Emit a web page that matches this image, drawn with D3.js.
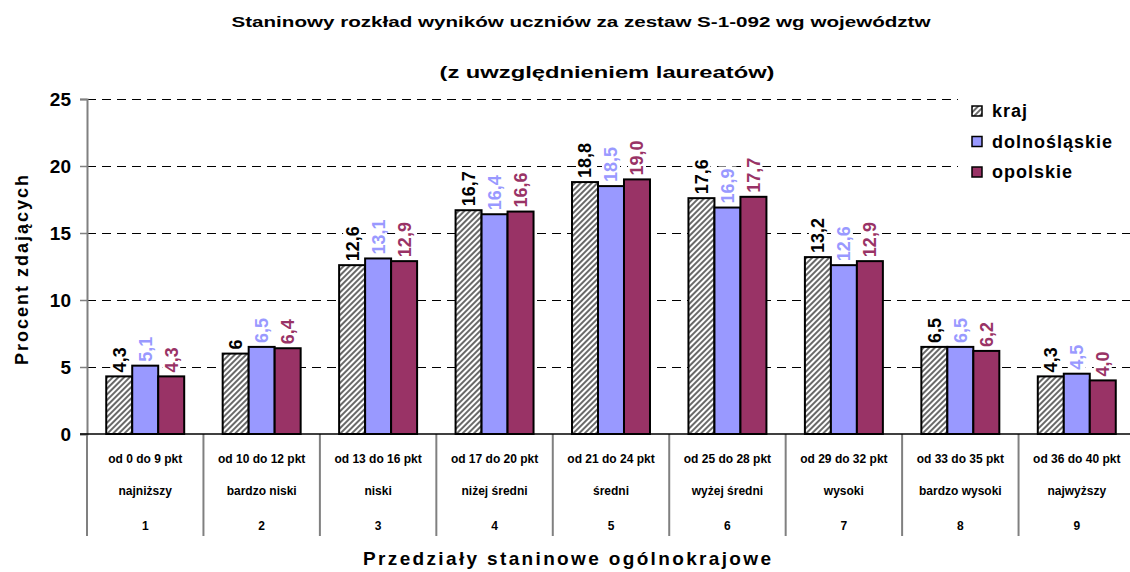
<!DOCTYPE html>
<html>
<head>
<meta charset="utf-8">
<script src="https://cdn.jsdelivr.net/npm/d3@7"></script>
<style>
  body { margin: 0; background: #fff; }
  text { font-family: "Liberation Sans", Arial, sans-serif; font-weight: bold; }
</style>
</head>
<body>
<div id="chart"></div>
<script>
// Chart data
const CATEGORIES = ['1', '2', '3', '4', '5', '6', '7', '8', '9'];
const RANGES = ['od 0 do 9 pkt', 'od 10 do 12 pkt', 'od 13 do 16 pkt', 'od 17 do 20 pkt', 'od 21 do 24 pkt',
                'od 25 do 28 pkt', 'od 29 do 32 pkt', 'od 33 do 35 pkt', 'od 36 do 40 pkt'];
const LEVELS = ['najniższy', 'bardzo niski', 'niski', 'niżej średni', 'średni',
                'wyżej średni', 'wysoki', 'bardzo wysoki', 'najwyższy'];
const SERIES = ['kraj', 'dolnośląskie', 'opolskie'];
const KRAJ = [4.3, 6, 12.6, 16.7, 18.8, 17.6, 13.2, 6.5, 4.3];
const DOLNOSLASKIE = [5.1, 6.5, 13.1, 16.4, 18.5, 16.9, 12.6, 6.5, 4.5];
const OPOLSKIE = [4.3, 6.4, 12.9, 16.6, 19.0, 17.7, 12.9, 6.2, 4.0];
const Y_TICKS = [0, 5, 10, 15, 20, 25];

const WIDTH = 1130, HEIGHT = 572;
const MARGIN = {top: 99, left: 87, right: -5, bottom: 138};
const FILLS = ['url(#hatch)', '#9999FF', '#993366'];
const LABEL_COLORS = ['#000000', '#9999FF', '#993366'];

const values = [KRAJ, DOLNOSLASKIE, OPOLSKIE];

const svg = d3.select('#chart').append('svg')
  .attr('width', WIDTH)
  .attr('height', HEIGHT);

// Hatch pattern for "kraj"
const pattern = svg.append('defs').append('pattern')
  .attr('id', 'hatch')
  .attr('patternUnits', 'userSpaceOnUse')
  .attr('width', 4).attr('height', 4)
  .attr('patternTransform', 'rotate(45)');
pattern.append('rect').attr('width', 4).attr('height', 4).attr('fill', '#fff');
pattern.append('line').attr('x1', 1).attr('y1', 0).attr('x2', 1).attr('y2', 4)
  .attr('stroke', '#444').attr('stroke-width', 1.6);

const x0 = d3.scaleBand()
  .domain(CATEGORIES)
  .range([MARGIN.left, WIDTH - MARGIN.right]);

const x1 = d3.scaleBand()
  .domain(SERIES)
  .range([0, x0.bandwidth()])
  .paddingOuter(0.74);

const y = d3.scaleLinear()
  .domain([0, 25])
  .range([HEIGHT - MARGIN.bottom, MARGIN.top]);

// Gridlines
svg.append('g')
  .selectAll('line')
  .data(Y_TICKS.filter(d => d > 0))
  .enter().append('line')
  .attr('x1', MARGIN.left).attr('x2', WIDTH - MARGIN.right)
  .attr('y1', d => y(d) + 0.5).attr('y2', d => y(d) + 0.5)
  .attr('stroke', '#000').attr('stroke-width', 1)
  .attr('shape-rendering', 'crispEdges')
  .attr('stroke-dasharray', '9,6');

// Y axis
const yAxis = d3.axisLeft(y).tickValues(Y_TICKS).tickSize(7).tickPadding(9);
const yg = svg.append('g')
  .attr('transform', `translate(${MARGIN.left},0)`)
  .call(yAxis);
yg.select('.domain').attr('stroke', '#808080').attr('stroke-width', 2);
yg.selectAll('.tick line').attr('stroke', '#808080').attr('stroke-width', 1.5);
yg.selectAll('.tick text')
  .style('font-size', '19px').style('font-family', '"Liberation Sans", Arial, sans-serif')
  .style('font-weight', 'bold').attr('fill', '#000');

// Category separators below the axis
svg.append('g')
  .selectAll('line')
  .data(CATEGORIES.concat(['end']))
  .enter().append('line')
  .attr('x1', (d, i) => MARGIN.left + i * x0.step())
  .attr('x2', (d, i) => MARGIN.left + i * x0.step())
  .attr('y1', y(0)).attr('y2', y(0) + 102)
  .attr('stroke', '#808080').attr('stroke-width', 2);

// Bars
const groups = svg.append('g')
  .selectAll('g')
  .data(CATEGORIES)
  .enter().append('g')
  .attr('transform', d => `translate(${x0(d)},0)`);

groups.selectAll('rect')
  .data((d, i) => SERIES.map((s, j) => ({series: s, j: j, value: values[j][i]})))
  .enter().append('rect')
  .attr('x', d => x1(d.series))
  .attr('width', x1.bandwidth())
  .attr('y', d => y(d.value))
  .attr('height', d => y(0) - y(d.value))
  .attr('fill', d => FILLS[d.j])
  .attr('stroke', '#000')
  .attr('stroke-width', 2);

// Baseline
svg.append('line')
  .attr('x1', MARGIN.left - 7).attr('x2', WIDTH - MARGIN.right)
  .attr('y1', y(0)).attr('y2', y(0))
  .attr('stroke', '#000').attr('stroke-width', 1.5);

// Value labels
const labels = groups.selectAll('g.label')
  .data((d, i) => SERIES.map((s, j) => ({series: s, j: j, value: values[j][i]})))
  .enter().append('g')
  .attr('class', 'label')
  .attr('transform', d => `translate(${x1(d.series) + x1.bandwidth() / 2},${y(d.value) - 4}) rotate(-90)`);

const labelText = labels.append('text')
  .attr('dy', '0.36em')
  .attr('fill', d => LABEL_COLORS[d.j])
  .style('font-size', '18px')
  .text(d => {
    if (d.j === 0 && Number.isInteger(d.value)) return String(d.value);
    return d.value.toFixed(1).replace('.', ',');
  });

labelText.each(function() {
  const len = this.getComputedTextLength();
  d3.select(this.parentNode).insert('rect', 'text')
    .attr('x', -2).attr('y', -9)
    .attr('width', len + 4).attr('height', 18)
    .attr('fill', '#fff');
});

// Category labels (three rows)
const rows = [RANGES, LEVELS, CATEGORIES];
const rowY = [459, 491, 526];
rows.forEach((row, r) => {
  svg.append('g')
    .selectAll('text')
    .data(row)
    .enter().append('text')
    .attr('x', (d, i) => x0(CATEGORIES[i]) + x0.bandwidth() / 2)
    .attr('y', rowY[r])
    .attr('dy', '0.35em')
    .attr('text-anchor', 'middle')
    .style('font-size', '12px')
    .text(d => d);
});

// Titles
svg.append('text')
  .attr('x', 581).attr('y', 22).attr('dy', '0.35em')
  .attr('text-anchor', 'middle')
  .attr('textLength', 699).attr('lengthAdjust', 'spacingAndGlyphs')
  .style('font-size', '15px')
  .text('Staninowy rozkład wyników uczniów za zestaw S-1-092 wg województw');

svg.append('text')
  .attr('x', 607).attr('y', 72).attr('dy', '0.35em')
  .attr('text-anchor', 'middle')
  .attr('textLength', 335).attr('lengthAdjust', 'spacingAndGlyphs')
  .style('font-size', '17px')
  .text('(z uwzględnieniem laureatów)');

svg.append('text')
  .attr('x', 567).attr('y', 558).attr('dy', '0.35em')
  .attr('text-anchor', 'middle')
  .attr('textLength', 408).attr('lengthAdjust', 'spacing')
  .style('font-size', '19px')
  .text('Przedziały staninowe ogólnokrajowe');

svg.append('text')
  .attr('transform', 'translate(22,270) rotate(-90)')
  .attr('dy', '0.35em')
  .attr('text-anchor', 'middle')
  .attr('textLength', 190).attr('lengthAdjust', 'spacing')
  .style('font-size', '18px')
  .text('Procent zdających');

// Legend
const legend = svg.append('g');
legend.append('rect')
  .attr('x', 958).attr('y', 93).attr('width', 175).attr('height', 96)
  .attr('fill', '#fff');
const legendRows = legend.selectAll('g')
  .data(SERIES)
  .enter().append('g')
  .attr('transform', (d, i) => `translate(972,${111 + i * 30.5})`);
legendRows.append('rect')
  .attr('x', 0).attr('y', -5).attr('width', 10).attr('height', 10)
  .attr('fill', (d, i) => FILLS[i])
  .attr('stroke', '#000').attr('stroke-width', 1.5);
legendRows.append('text')
  .attr('x', 20).attr('dy', '0.35em')
  .style('font-size', '18px')
  .style('letter-spacing', '1px')
  .text(d => d);
</script>
</body>
</html>
